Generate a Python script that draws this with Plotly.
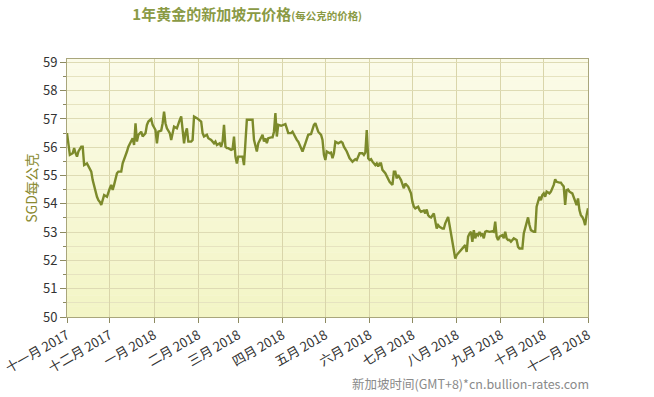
import pandas as pd
import plotly.graph_objects as go

# ---- data ----
base_date = "2017-11-01"
day_offsets = [
    0, 1, 2, 4, 5, 6, 7, 8, 10, 11, 12, 14, 15, 16, 17, 18, 19, 21, 22, 23,
    24, 25, 26, 28, 29, 30, 31, 32, 33, 35, 36, 38, 39, 40, 42, 43, 44, 45, 46, 47,
    48, 49, 50, 52, 53, 55, 56, 57, 59, 60, 62, 63, 64, 66, 67, 68, 69, 70, 72, 73,
    74, 75, 77, 78, 79, 80, 82, 83, 84, 85, 87, 88, 89, 91, 93, 94, 95, 96, 98, 99,
    101, 103, 104, 105, 107, 108, 109, 110, 111, 112, 113, 115, 116, 117, 118, 119, 120, 122, 123, 124,
    125, 126, 128, 130, 131, 133, 134, 136, 137, 138, 139, 140, 141, 143, 144, 145, 146, 147, 148, 150,
    151, 153, 154, 155, 156, 157, 158, 160, 161, 162, 163, 164, 165, 167, 168, 169, 171, 172, 173, 174,
    175, 176, 178, 179, 180, 181, 182, 184, 185, 186, 187, 188, 190, 192, 193, 194, 196, 197, 198, 199,
    200, 202, 203, 204, 205, 207, 208, 209, 210, 211, 212, 213, 214, 216, 217, 218, 219, 220, 221, 223,
    224, 225, 226, 227, 228, 229, 230, 231, 232, 234, 235, 236, 237, 239, 240, 241, 242, 243, 244, 246,
    247, 248, 250, 251, 252, 253, 254, 255, 257, 258, 259, 260, 261, 263, 264, 265, 267, 268, 269, 270,
    271, 272, 273, 275, 276, 277, 278, 279, 280, 281, 282, 283, 284, 285, 286, 287, 288, 289, 290, 291,
    292, 293, 294, 295, 296, 298, 299, 300, 301, 302, 303, 305, 306, 307, 308, 309, 310, 311, 312, 313,
    315, 316, 317, 318, 319, 320, 321, 322, 323, 324, 325, 327, 328, 329, 330, 331, 332, 333, 334, 335,
    336, 338, 339, 340, 341, 342, 343, 345, 346, 347, 348, 349, 350, 351, 352, 354, 355, 356, 357, 358,
    359, 360, 361, 362, 363, 364, 365,
]
price_sgd_per_gram = [
    56.50, 56.14, 55.73, 55.79, 55.97, 55.79, 55.67, 55.85, 56.02, 56.02, 55.37, 55.43, 55.32, 55.26, 55.14, 54.84, 54.61, 54.25, 54.13, 54.07,
    53.96, 54.13, 54.31, 54.25, 54.43, 54.55, 54.67, 54.49, 54.67, 55.08, 55.14, 55.14, 55.43, 55.55, 55.85, 56.02, 56.14, 56.20, 56.32, 56.08,
    56.85, 56.20, 56.44, 56.55, 56.38, 56.50, 56.79, 56.91, 57.00, 56.79, 56.61, 56.14, 56.55, 56.59, 56.85, 57.26, 56.85, 56.67, 56.50, 56.26,
    56.55, 56.73, 56.67, 56.85, 56.97, 57.09, 56.14, 56.50, 56.67, 56.20, 56.20, 56.26, 57.09, 57.03, 56.97, 56.91, 56.50, 56.38, 56.44, 56.32,
    56.26, 56.14, 56.20, 56.08, 56.14, 56.02, 56.20, 56.79, 56.02, 55.97, 55.97, 55.91, 55.93, 56.38, 55.67, 55.43, 55.67, 55.67, 55.67, 55.37,
    56.26, 56.97, 56.97, 56.97, 56.26, 55.85, 56.14, 56.32, 56.44, 56.20, 56.32, 56.14, 56.32, 56.35, 56.35, 56.55, 57.21, 56.38, 56.79, 56.76,
    56.79, 56.82, 56.67, 56.50, 56.50, 56.50, 56.55, 56.32, 56.26, 56.20, 56.08, 56.02, 55.85, 56.14, 56.32, 56.44, 56.47, 56.61, 56.79, 56.85,
    56.71, 56.55, 56.44, 56.26, 55.73, 55.55, 55.85, 55.79, 55.81, 55.61, 55.79, 56.20, 56.14, 56.20, 56.16, 56.02, 55.85, 55.70, 55.61, 55.55,
    55.49, 55.58, 55.55, 55.67, 55.79, 55.79, 55.73, 55.81, 56.61, 55.61, 55.55, 55.58, 55.49, 55.37, 55.43, 55.32, 55.43, 55.43, 55.20, 55.08,
    54.96, 54.90, 54.78, 54.72, 54.67, 55.14, 55.14, 54.90, 55.02, 54.84, 54.72, 54.55, 54.72, 54.61, 54.49, 54.37, 54.07, 53.90, 53.84, 53.90,
    53.78, 53.72, 53.76, 53.66, 53.80, 53.60, 53.54, 53.52, 53.66, 53.37, 53.13, 53.25, 53.19, 53.13, 53.13, 53.31, 53.54, 53.25, 52.95, 52.78,
    52.42, 52.07, 52.19, 52.30, 52.39, 52.42, 52.50, 52.54, 52.30, 52.84, 52.95, 53.01, 52.66, 53.07, 52.78, 52.95, 52.89, 53.01, 52.89, 52.95,
    52.78, 53.01, 53.04, 53.01, 53.01, 53.03, 53.01, 53.37, 52.84, 52.72, 52.84, 52.89, 52.78, 53.01, 52.78, 52.72, 52.72, 52.66, 52.74, 52.78,
    52.72, 52.48, 52.42, 52.42, 52.42, 52.95, 53.13, 53.31, 53.52, 53.25, 53.07, 53.01, 53.01, 53.90, 54.07, 54.25, 54.13, 54.31, 54.37, 54.25,
    54.43, 54.37, 54.43, 54.55, 54.67, 54.87, 54.78, 54.75, 54.75, 54.67, 54.61, 53.96, 54.49, 54.51, 54.43, 54.37, 54.25, 54.13, 53.96, 54.19,
    53.78, 53.60, 53.54, 53.43, 53.25, 53.60, 53.84,
]

tick_dates = ["2017-11-01", "2017-12-01", "2018-01-01", "2018-02-01", "2018-03-01",
              "2018-04-01", "2018-05-01", "2018-06-01", "2018-07-01", "2018-08-01",
              "2018-09-01", "2018-10-01", "2018-11-01"]
tick_labels = ["十一月 2017", "十二月 2017", "一月 2018", "二月 2018", "三月 2018",
               "四月 2018", "五月 2018", "六月 2018", "七月 2018", "八月 2018",
               "九月 2018", "十月 2018", "十一月 2018"]
y_ticks = [50, 51, 52, 53, 54, 55, 56, 57, 58, 59]

title_main = "1年黄金的新加坡元价格"
title_sub = "(每公克的价格)"
y_title = "SGD每公克"
source_text = "新加坡时间(GMT+8)*cn.bullion-rates.com"

dates = pd.Timestamp(base_date) + pd.to_timedelta(day_offsets, unit="D")

FONT = "Noto Sans CJK SC"
LINE = "#7c8a2b"

# vertical background gradient (light at top, more yellow at bottom)
def mix(c1, c2, t):
    a = [int(c1[i:i + 2], 16) for i in (1, 3, 5)]
    b = [int(c2[i:i + 2], 16) for i in (1, 3, 5)]
    return "#" + "".join(f"{round(a[k] + (b[k] - a[k]) * t):02x}" for k in range(3))

bands = 24
bg_shapes = []
for i in range(bands):
    t = i / (bands - 1)
    bg_shapes.append(dict(
        type="rect", xref="paper", yref="paper", layer="below",
        x0=0, x1=1, y0=1 - (i + 1) / bands, y1=1 - i / bands,
        fillcolor=mix("#fbfbe8", "#f3f5c6", t), line=dict(width=0),
    ))

fig = go.Figure()
fig.add_trace(go.Scatter(
    x=dates, y=price_sgd_per_gram, mode="lines",
    line=dict(color=LINE, width=2.4), hoverinfo="x+y", showlegend=False,
))

fig.update_layout(
    width=654, height=397,
    margin=dict(l=67, r=66, t=59, b=80, autoexpand=False),
    paper_bgcolor="white",
    plot_bgcolor="#f8f8dc",
    font=dict(family=FONT, size=12, color="#333333"),
    title=dict(
        text=f"<b>{title_main}</b><b><span style='font-size:10.5px'>{title_sub}</span></b>",
        x=0.378, xanchor="center", xref="container",
        y=0.962, yanchor="middle", yref="container",
        font=dict(family=FONT, size=15, color="#8a9a45"),
    ),
    shapes=bg_shapes,
    xaxis=dict(
        range=[tick_dates[0], tick_dates[-1]], automargin=False,
        tickvals=tick_dates, ticktext=tick_labels, tickangle=-30,
        ticks="outside", ticklen=5, tickcolor="#8d8a60",
        showgrid=True, gridcolor="#d9d5aa", gridwidth=1,
        showline=True, linecolor="#a9a67c", linewidth=1, mirror=True,
        tickfont=dict(family=FONT, size=13, color="#333333"),
        zeroline=False,
    ),
    yaxis=dict(
        range=[50, 59.12], automargin=False,
        tickvals=y_ticks,
        ticks="outside", ticklen=6, tickcolor="#8d8a60",
        showgrid=True, gridcolor="#dedbb4", gridwidth=1,
        minor=dict(dtick=0.5, tick0=50, ticks="outside", ticklen=3, tickcolor="#8d8a60",
                   showgrid=True, gridcolor="#e6e3c0", gridwidth=1),
        showline=True, linecolor="#a9a67c", linewidth=1, mirror=True,
        tickfont=dict(family=FONT, size=13, color="#333333"),
        title=dict(text=y_title, font=dict(family=FONT, size=14, color="#8a8a30"), standoff=2),
        zeroline=False,
    ),
    annotations=[dict(
        text=source_text, xref="paper", yref="paper", x=1.005, y=-0.256,
        xanchor="right", yanchor="middle", showarrow=False,
        font=dict(family=FONT, size=12.5, color="#8a8a8a"),
    )],
)

fig.write_html("out.html")
